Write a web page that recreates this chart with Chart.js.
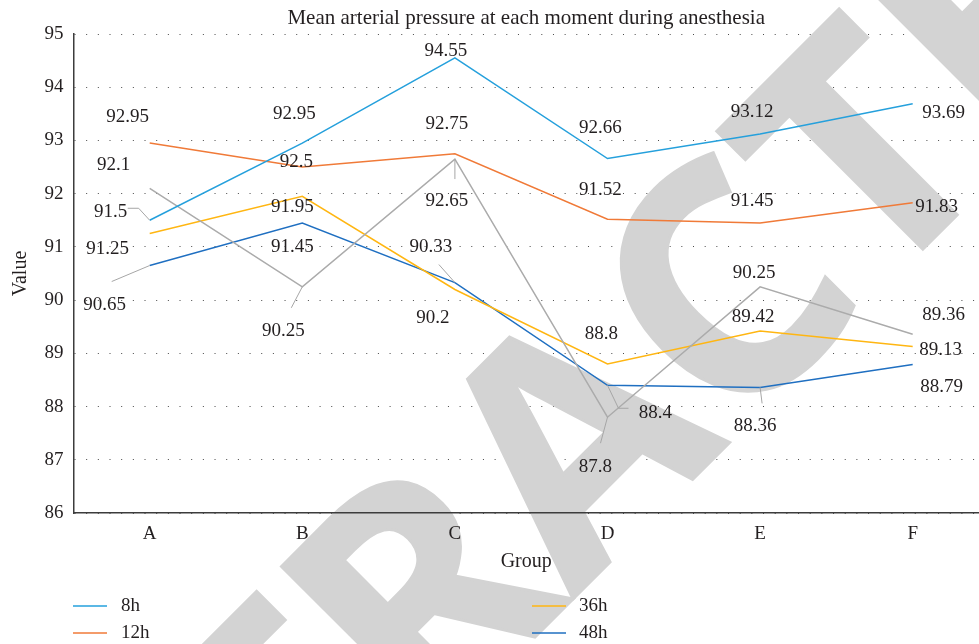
<!DOCTYPE html>
<html>
<head>
<meta charset="utf-8">
<script src="https://cdn.jsdelivr.net/npm/chart.js@4.4.1/dist/chart.umd.min.js"></script>
<style>
  html, body { margin: 0; padding: 0; background: #ffffff; }
  #c { display: block; }
</style>
</head>
<body>
<canvas id="c" width="979" height="644"></canvas>
<script>
// Groups on the x axis and the y-axis tick values
const groups = ['A', 'B', 'C', 'D', 'E', 'F'];
const yTicks = [86, 87, 88, 89, 90, 91, 92, 93, 94, 95];

// Mean arterial pressure per time point
const seriesNames = ['8h', '12h', '24h', '36h', '48h'];
const map8h  = [91.5, 92.95, 94.55, 92.66, 93.12, 93.69];
const map12h = [92.95, 92.5, 92.75, 91.52, 91.45, 91.83];
const map24h = [92.1, 90.25, 92.65, 87.8, 90.25, 89.36];
const map36h = [91.25, 91.95, 90.2, 88.8, 89.42, 89.13];
const map48h = [90.65, 91.45, 90.33, 88.4, 88.36, 88.79];

const seriesValues = [map8h, map12h, map24h, map36h, map48h];
const seriesColors = ['#25a0dc', '#f07a38', '#ababab', '#ffb612', '#1f6fc1'];

const SERIF = '"Liberation Serif", "Times New Roman", serif';
const TEXT = '#231f20';

// Value-label placement: [dx, dy] from the point, plus optional callout polyline
const labelPlacement = {
  '8h':  [{d: [-39, -8], lead: [[-11, -12], [-22, -12]]}, {d: [-8, -29]}, {d: [-9, -7]}, {d: [-7, -31]}, {d: [-8, -22]}, {d: [31, 9]}],
  '12h': [{d: [-22, -26]}, {d: [-6, -5]}, {d: [-8, -30]}, {d: [-7, -29]}, {d: [-8, -22]}, {d: [24, 4]}],
  '24h': [{d: [-36, -23]}, {d: [-19, 44], lead: [[-11, 21]]}, {d: [-8, 42], lead: [[0, 20]]}, {d: [-12, 50], lead: [[-7, 26]]}, {d: [-6, -14]}, {d: [31, -19]}],
  '36h': [{d: [-42, 15]}, {d: [-10, 11]}, {d: [-22, 29]}, {d: [-6, -30]}, {d: [-7, -14]}, {d: [28, 4]}],
  '48h': [{d: [-45, 39], lead: [[-38, 16]]}, {d: [-10, 24]}, {d: [-24, -36], lead: [[-16, -18]]}, {d: [48, 28], lead: [[11, 23], [21, 23]]}, {d: [-5, 39], lead: [[2, 16]]}, {d: [29, 23]}]
};

// Diagonal stamp behind the plotted lines (anchored on the second "T")
const stampPlugin = {
  id: 'stamp',
  beforeDatasetsDraw(chart) {
    const ctx = chart.ctx;
    ctx.save();
    ctx.translate(940, 232);
    ctx.rotate(-Math.PI / 4);
    ctx.font = 'bold 321px "Open Sans", "Liberation Sans", sans-serif';
    ctx.fillStyle = '#d3d3d3';
    ctx.strokeStyle = '#d3d3d3';
    ctx.lineWidth = 3;
    ctx.lineJoin = 'miter';
    ctx.textAlign = 'left';
    ctx.textBaseline = 'alphabetic';
    const lead = ctx.measureText('RETRAC').width;
    const tee = ctx.measureText('T').width;
    const x0 = -(lead + tee / 2);
    ctx.fillText('RETRACTED', x0, 0);
    ctx.strokeText('RETRACTED', x0, 0);
    ctx.restore();
  }
};

// Value labels with callout lines
const valueLabelPlugin = {
  id: 'valueLabels',
  afterDatasetsDraw(chart) {
    const ctx = chart.ctx;
    ctx.save();
    ctx.font = '19px ' + SERIF;
    ctx.textAlign = 'center';
    ctx.textBaseline = 'middle';
    chart.data.datasets.forEach((ds, i) => {
      const meta = chart.getDatasetMeta(i);
      const place = labelPlacement[ds.label];
      meta.data.forEach((pt, j) => {
        const p = place[j];
        if (p.lead) {
          ctx.beginPath();
          ctx.strokeStyle = '#a6a6a6';
          ctx.lineWidth = 1;
          ctx.moveTo(pt.x, pt.y);
          p.lead.forEach(([lx, ly]) => ctx.lineTo(pt.x + lx, pt.y + ly));
          ctx.stroke();
        }
        ctx.fillStyle = TEXT;
        ctx.fillText(String(ds.data[j].y), pt.x + p.d[0], pt.y + p.d[1]);
      });
    });
    ctx.restore();
  }
};

// Two-column legend below the axis (column-major)
const legendPlugin = {
  id: 'columnLegend',
  afterDraw(chart) {
    const ctx = chart.ctx;
    const cols = [{x0: 73, x1: 107, tx: 121}, {x0: 532, x1: 566, tx: 579}];
    const rows = [606, 633, 660];
    ctx.save();
    ctx.font = '19px ' + SERIF;
    ctx.textAlign = 'left';
    ctx.textBaseline = 'middle';
    chart.data.datasets.forEach((ds, i) => {
      const c = cols[Math.floor(i / 3)];
      const y = rows[i % 3];
      ctx.beginPath();
      ctx.strokeStyle = ds.borderColor;
      ctx.lineWidth = 1.3;
      ctx.moveTo(c.x0, y);
      ctx.lineTo(c.x1, y);
      ctx.stroke();
      ctx.fillStyle = TEXT;
      ctx.fillText(ds.label, c.tx, y);
    });
    ctx.restore();
  }
};

const datasets = seriesNames.map((name, i) => ({
  label: name,
  data: seriesValues[i].map((v, j) => ({ x: j, y: v })),
  borderColor: seriesColors[i],
  backgroundColor: seriesColors[i],
  borderWidth: 1.5,
  pointRadius: 0,
  pointHoverRadius: 0,
  tension: 0,
  fill: false
}));

new Chart(document.getElementById('c'), {
  type: 'line',
  data: { labels: groups, datasets },
  plugins: [stampPlugin, valueLabelPlugin, legendPlugin],
  options: {
    responsive: false,
    animation: false,
    devicePixelRatio: 1,
    layout: { padding: { top: 0, left: 0, right: 0, bottom: 70 } },
    plugins: {
      legend: { display: false },
      tooltip: { enabled: false },
      title: {
        display: true,
        fullSize: false,
        text: 'Mean arterial pressure at each moment during anesthesia',
        color: TEXT,
        font: { family: SERIF, size: 21, weight: 'normal' },
        padding: { top: 5.4, bottom: 3.4 }
      }
    },
    scales: {
      x: {
        type: 'linear',
        min: -0.5,
        max: 5.4345,
        afterFit(scale) { scale.height = 61; },
        afterBuildTicks(scale) { scale.ticks = groups.map((g, i) => ({ value: i })); },
        grid: { display: false, drawTicks: false, z: 1 },
        border: { display: true, color: '#3c3c3c', width: 1.5, z: 1 },
        ticks: {
          color: TEXT, font: { family: SERIF, size: 19 }, padding: 10, z: 1,
          callback: (value) => groups[value]
        },
        title: {
          display: true, text: 'Group', color: TEXT,
          font: { family: SERIF, size: 20 }, padding: { top: 0, bottom: 0 }
        }
      },
      y: {
        min: 86,
        max: 95,
        afterFit(scale) { scale.width = 73.4; },
        afterBuildTicks(scale) { scale.ticks = yTicks.map(v => ({ value: v })); },
        grid: { color: '#4a4a4a', lineWidth: 1, drawTicks: false },
        border: { display: true, color: '#3c3c3c', width: 1.5, dash: [1, 10.67], z: 1 },
        ticks: { color: TEXT, font: { family: SERIF, size: 19 }, padding: 10, z: 1 },
        title: {
          display: true, text: 'Value', color: TEXT,
          font: { family: SERIF, size: 20 }, padding: { top: 9, bottom: 0 }
        }
      }
    }
  }
});
</script>
</body>
</html>
